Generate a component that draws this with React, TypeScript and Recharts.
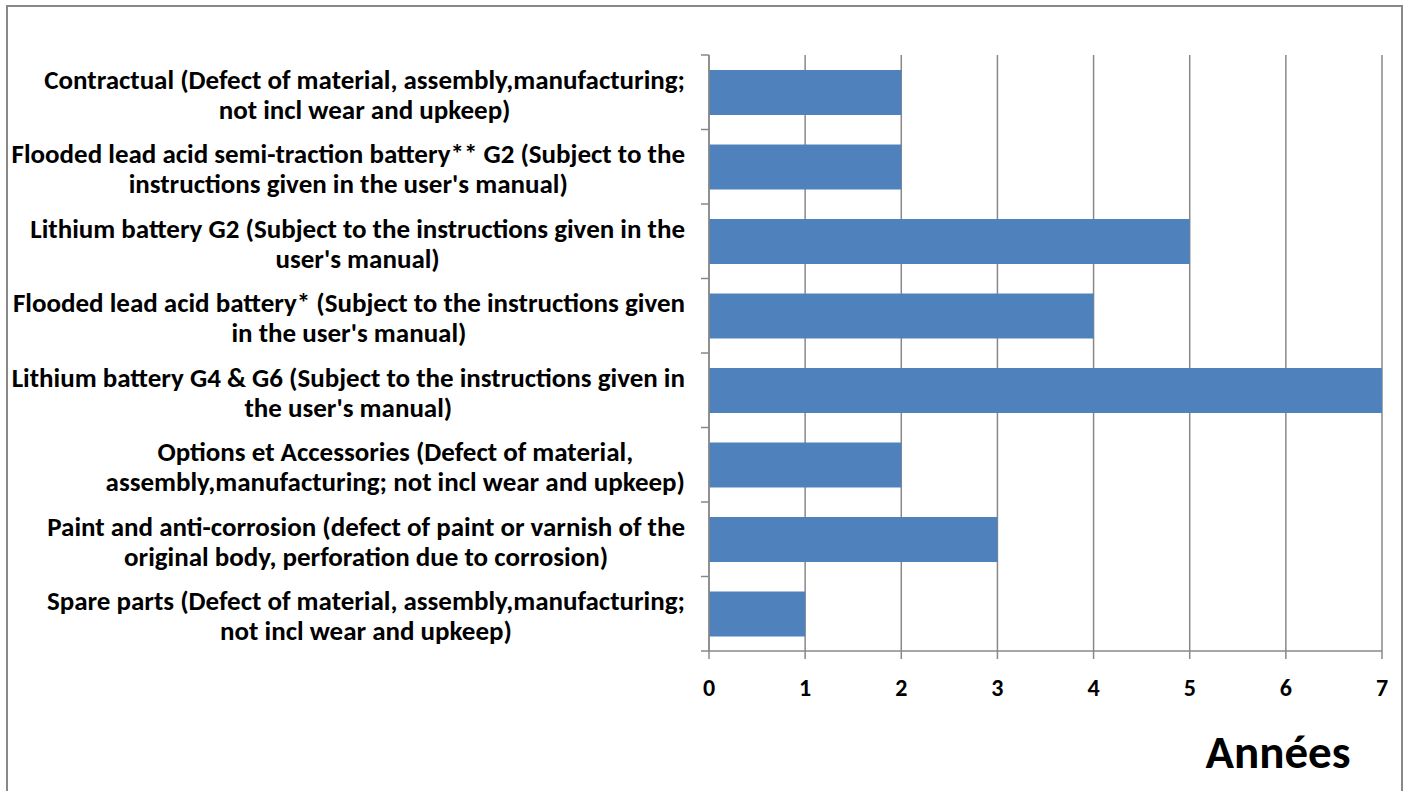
import React from 'react';
import { BarChart, Bar, XAxis, YAxis, CartesianGrid } from 'recharts';

const categories: string[] = [
  'Contractual (Defect of material, assembly,manufacturing;\nnot incl wear and upkeep)',
  'Flooded lead acid semi-traction battery** G2 (Subject to the\ninstructions given in the user\'s manual)',
  'Lithium battery G2 (Subject to the instructions given in the\nuser\'s manual)',
  'Flooded lead acid battery* (Subject to the instructions given\nin the user\'s manual)',
  'Lithium battery G4 & G6 (Subject to the instructions given in\nthe user\'s manual)',
  'Options et Accessories (Defect of material,\nassembly,manufacturing; not incl wear and upkeep)',
  'Paint and anti-corrosion (defect of paint or varnish of the\noriginal body, perforation due to corrosion)',
  'Spare parts (Defect of material, assembly,manufacturing;\nnot incl wear and upkeep)',
];
const years: number[] = [2, 2, 5, 4, 7, 2, 3, 1];
const xTicks: number[] = [0, 1, 2, 3, 4, 5, 6, 7];
const axisTitle = 'Années';

const data = categories.map((c, i) => ({ name: c, value: years[i] }));

const FONT = 'Carlito, Lato, sans-serif';
const LABEL_SIZE = 27;

let ctx: CanvasRenderingContext2D | null = null;
function measure(t: string): number {
  if (!ctx) {
    const c = document.createElement('canvas');
    ctx = c.getContext('2d');
  }
  if (!ctx) return t.length * 12;
  ctx.font = `bold ${LABEL_SIZE}px ${FONT}`;
  return ctx.measureText(t).width;
}

const YTick = (props: any) => {
  const { x, y, payload, index, visibleTicksCount } = props;
  const lines: string[] = String(payload.value).split('\n');
  const maxW = Math.max(...lines.map(measure));
  const right = x - 14;
  const cx = right - maxW / 2;
  const half = payload && typeof payload.offset === 'number' ? payload.offset : 0;
  const isLast = index === (visibleTicksCount ?? categories.length) - 1;
  return (
    <g>
      <line x1={x + 2} x2={x + 10} y1={y - half} y2={y - half} stroke="#888" strokeWidth={1.5} />
      {isLast && (
        <line x1={x + 2} x2={x + 10} y1={y + half} y2={y + half} stroke="#888" strokeWidth={1.5} />
      )}
      {lines.map((l, i) => (
        <text
          key={i}
          x={cx}
          y={y + (i - (lines.length - 1) / 2) * 30 + 2}
          textAnchor="middle"
          dominantBaseline="central"
          fontFamily={FONT}
          fontWeight="bold"
          fontSize={LABEL_SIZE}
          fill="#000"
        >
          {l}
        </text>
      ))}
    </g>
  );
};

const XTick = (props: any) => {
  const { x, y, payload } = props;
  return (
    <text
      x={x}
      y={y + 26}
      textAnchor="middle"
      dominantBaseline="central"
      fontFamily={FONT}
      fontWeight="bold"
      fontSize={24}
      fill="#000"
    >
      {payload.value}
    </text>
  );
};

export default function App() {
  return (
    <div style={{ position: 'absolute', left: 0, top: 0, width: 1412, height: 791, overflow: 'hidden', background: '#fff' }}>
      <div
        style={{
          position: 'absolute',
          left: 6,
          top: 5,
          width: 1397,
          height: 820,
          border: '2px solid #888',
          boxSizing: 'border-box',
        }}
      />
      <div style={{ position: 'absolute', left: 0, top: 0 }}>
        <BarChart
          layout="vertical"
          width={1412}
          height={791}
          data={data}
          margin={{ top: 55, right: 30, bottom: 0, left: 0 }}
          barCategoryGap="20%"
        >
          <CartesianGrid horizontal={false} vertical={true} stroke="#888" strokeWidth={1.5} />
          <XAxis
            type="number"
            domain={[0, 7]}
            ticks={xTicks}
            interval={0}
            axisLine={{ stroke: '#888', strokeWidth: 1.5 }}
            tickLine={{ stroke: '#888', strokeWidth: 1.5 }}
            tickSize={8}
            tick={<XTick />}
            height={140}
          />
          <YAxis
            type="category"
            dataKey="name"
            width={709}
            interval={0}
            axisLine={{ stroke: '#888', strokeWidth: 1.5 }}
            tickLine={false}
            tickSize={8}
            tick={<YTick />}
          />
          <Bar dataKey="value" fill="#4F81BD" isAnimationActive={false} />
        </BarChart>
      </div>
      <div
        style={{
          position: 'absolute',
          left: 1128,
          top: 722,
          width: 300,
          textAlign: 'center',
          fontFamily: FONT,
          fontWeight: 'bold',
          fontSize: 47,
          lineHeight: '60px',
          color: '#000',
        }}
      >
        {axisTitle}
      </div>
    </div>
  );
}
